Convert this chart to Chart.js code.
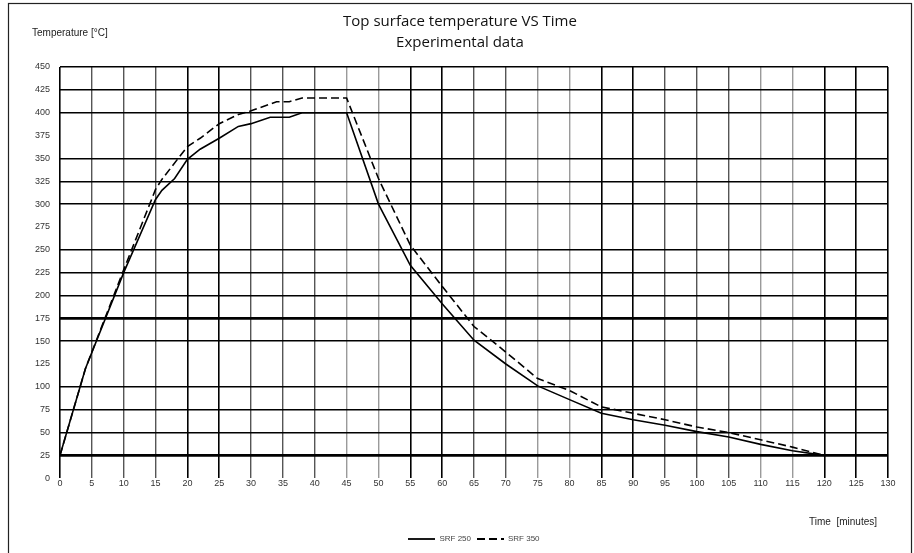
<!DOCTYPE html>
<html>
<head>
<meta charset="utf-8">
<script src="https://cdn.jsdelivr.net/npm/chart.js@4.4.1/dist/chart.umd.min.js"></script>
<style>
  html, body { margin: 0; padding: 0; background: #fff; }
  #wrap { width: 914px; height: 553px; position: relative; }
</style>
</head>
<body>
<div id="wrap"><canvas id="tempChart" width="914" height="553"></canvas></div>
<script>
// time [minutes] and temperature [°C]
const timeSrf250 = [0, 4, 10, 15, 16, 18, 20, 22, 25, 28, 30, 33, 36, 38, 45, 50, 55, 60, 65, 70, 75, 80, 85, 90, 95, 100, 105, 110, 115, 120];
const tempSrf250 = [25, 120, 225, 305, 315, 328, 349, 360, 372, 385, 388, 395, 395, 400, 400, 300, 233, 191, 151, 125, 101, 86, 71, 64, 58, 51, 45, 37, 30, 25];
const timeSrf350 = [0, 4, 10, 15, 16, 20, 22, 25, 28, 30, 34, 36, 38, 45, 50, 55, 60, 65, 70, 75, 80, 85, 90, 95, 100, 105, 110, 115, 120];
const tempSrf350 = [25, 120, 228, 316, 327, 363, 372, 388, 398, 402, 412, 412, 416, 416, 328, 255, 210, 166, 138, 109, 96, 78, 71, 64, 56, 50, 42, 34, 25];
const seriesNames = ["SRF 250", "SRF 350"];

const titleLines = ["Top surface temperature VS Time", "Experimental data"];
const yAxisTitle = "Temperature [°C]";
const xAxisTitle = "Time  [minutes]";

// scanned grid: some lines are missing, some heavier or lighter
const hiddenY = [0, 125, 275, 375];
const heavyY = [25, 175];
const blackX = [0, 20, 25, 55, 60, 85, 90, 120, 125, 130];
const lightX = [45, 50, 75, 80, 110, 115];

function toPoints(xs, ys) {
    return xs.map((x, i) => ({ x: x, y: ys[i] }));
}

// little line samples for the legend (point-style lines lose their dash)
function lineSample(dash) {
    const cv = document.createElement("canvas");
    cv.width = 27;
    cv.height = 4;
    const g = cv.getContext("2d");
    g.strokeStyle = "#000";
    g.lineWidth = 1.8;
    g.setLineDash(dash);
    g.beginPath();
    g.moveTo(0, 2);
    g.lineTo(27, 2);
    g.stroke();
    return cv;
}

const framePlugin = {
    id: "frame",
    beforeDraw(chart) {
        const c = chart.ctx;
        c.save();
        c.fillStyle = "#fff";
        c.fillRect(0, 0, chart.width, chart.height);
        c.strokeStyle = "#222";
        c.lineWidth = 1.2;
        c.strokeRect(8.5, 3.5, 903, 570);
        c.restore();
    },
    afterDraw(chart) {
        const c = chart.ctx;
        c.save();
        c.fillStyle = "#111";
        c.textAlign = "center";
        c.textBaseline = "middle";
        c.font = "15px 'Open Sans'";
        c.fillText(titleLines[0], 460, 22);
        c.fillText(titleLines[1], 460, 43);
        c.textAlign = "left";
        c.fillStyle = "#222";
        c.font = "10px 'Liberation Sans'";
        c.fillText(yAxisTitle, 32, 33);
        // x title sits a little left of the plot's right edge
        c.textAlign = "right";
        c.fillText(xAxisTitle, chart.chartArea.right - 11, 522);
        c.restore();
    }
};

const ctx = document.getElementById("tempChart").getContext("2d");
const tempChart = new Chart(ctx, {
    type: "line",
    data: {
        datasets: [{
            label: seriesNames[0],
            data: toPoints(timeSrf250, tempSrf250),
            borderColor: "#000",
            backgroundColor: "#000",
            borderWidth: 1.6,
            pointRadius: 0,
            pointStyle: lineSample([]),
            tension: 0
        }, {
            label: seriesNames[1],
            data: toPoints(timeSrf350, tempSrf350),
            borderColor: "#000",
            backgroundColor: "#000",
            borderWidth: 1.6,
            borderDash: [8, 4],
            pointRadius: 0,
            pointStyle: lineSample([8, 4]),
            tension: 0
        }]
    },
    options: {
        responsive: false,
        animation: false,
        layout: { padding: { left: 0, right: 26, top: 67, bottom: 0 } },
        plugins: {
            title: { display: false },
            tooltip: { enabled: false },
            legend: {
                display: true,
                position: "bottom",
                fullSize: false,
                labels: {
                    usePointStyle: true,
                    pointStyleWidth: 27,
                    padding: 6,
                    color: "#444",
                    font: { size: 8, family: "'Liberation Sans'" }
                }
            }
        },
        scales: {
            x: {
                type: "linear",
                min: 0,
                max: 130,
                border: { display: false },
                ticks: {
                    stepSize: 5,
                    padding: 0,
                    color: "#333",
                    font: { size: 9, family: "'Liberation Sans'" }
                },
                grid: {
                    drawTicks: false,
                    color: c => blackX.includes(c.tick.value) ? "#000" : (lightX.includes(c.tick.value) ? "#9a9a9a" : "#555"),
                    lineWidth: c => blackX.includes(c.tick.value) ? 1.6 : 1.4
                },
                title: {
                    display: true,
                    text: xAxisTitle,
                    align: "end",
                    color: "rgba(0,0,0,0)",
                    font: { size: 10, family: "'Liberation Sans'" },
                    padding: { top: 26, bottom: 2 }
                }
            },
            y: {
                min: 0,
                max: 450,
                border: { display: false },
                afterFit: s => { s.width = 60; },
                ticks: {
                    stepSize: 25,
                    padding: 10,
                    color: "#333",
                    font: { size: 9, family: "'Liberation Sans'" }
                },
                grid: {
                    drawTicks: false,
                    color: c => hiddenY.includes(c.tick.value) ? "rgba(0,0,0,0)" : "#000",
                    lineWidth: c => heavyY.includes(c.tick.value) ? 2.8 : 1.4
                }
            }
        }
    },
    plugins: [framePlugin]
});
</script>
</body>
</html>
